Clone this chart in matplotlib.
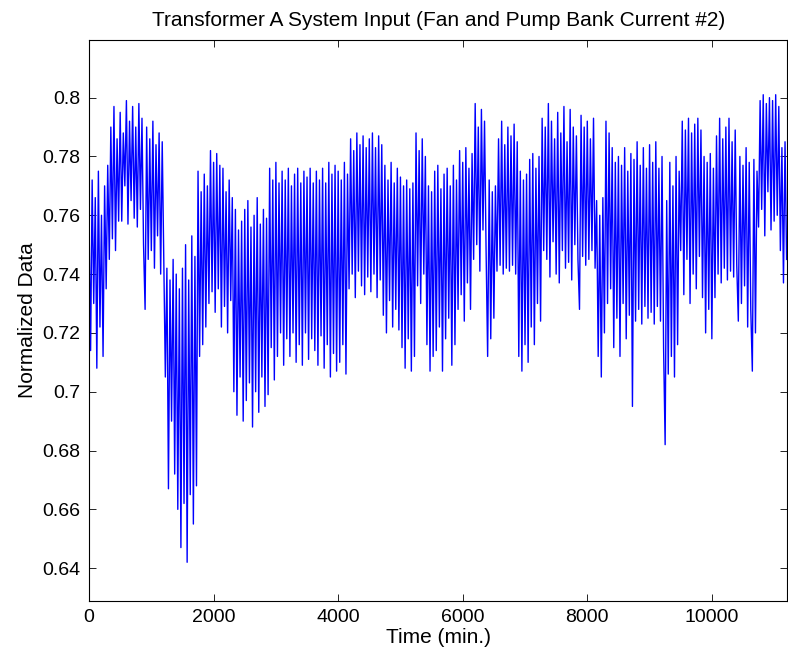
from matplotlib import pyplot as plt
import numpy as np

# trace values, one every 25 min
current = [
    0.758, 0.714, 0.772, 0.730, 0.766, 0.708, 0.775, 0.722, 0.760, 0.712,
    0.770, 0.735, 0.777, 0.745, 0.790, 0.752, 0.797, 0.748, 0.786, 0.758,
    0.795, 0.758, 0.788, 0.770, 0.799, 0.757, 0.792, 0.765, 0.797, 0.759,
    0.790, 0.756, 0.798, 0.762, 0.793, 0.750, 0.728, 0.790, 0.745, 0.786,
    0.748, 0.792, 0.742, 0.784, 0.753, 0.788, 0.740, 0.785, 0.745, 0.705,
    0.742, 0.667, 0.738, 0.690, 0.745, 0.672, 0.740, 0.660, 0.735, 0.647,
    0.742, 0.662, 0.750, 0.642, 0.738, 0.665, 0.753, 0.655, 0.746, 0.668,
    0.775, 0.712, 0.768, 0.716, 0.774, 0.722, 0.770, 0.730, 0.782, 0.734,
    0.778, 0.727, 0.781, 0.735, 0.777, 0.722, 0.776, 0.729, 0.768, 0.720,
    0.772, 0.731, 0.766, 0.700, 0.762, 0.692, 0.755, 0.705, 0.758, 0.690,
    0.762, 0.697, 0.765, 0.703, 0.756, 0.688, 0.760, 0.700, 0.766, 0.693,
    0.757, 0.705, 0.762, 0.695, 0.759, 0.699, 0.776, 0.715, 0.772, 0.704,
    0.778, 0.712, 0.771, 0.720, 0.775, 0.709, 0.772, 0.718, 0.776, 0.712,
    0.770, 0.720, 0.774, 0.710, 0.776, 0.716, 0.771, 0.709, 0.775, 0.720,
    0.773, 0.711, 0.776, 0.718, 0.771, 0.714, 0.775, 0.709, 0.772, 0.719,
    0.776, 0.708, 0.771, 0.716, 0.778, 0.705, 0.774, 0.713, 0.777, 0.707,
    0.775, 0.710, 0.772, 0.716, 0.778, 0.706, 0.774, 0.735, 0.786, 0.740,
    0.782, 0.732, 0.788, 0.741, 0.784, 0.736, 0.787, 0.733, 0.783, 0.739,
    0.786, 0.734, 0.788, 0.740, 0.783, 0.732, 0.787, 0.738, 0.784, 0.726,
    0.777, 0.720, 0.772, 0.731, 0.778, 0.722, 0.771, 0.728, 0.776, 0.721,
    0.773, 0.715, 0.770, 0.708, 0.772, 0.718, 0.769, 0.707, 0.771, 0.712,
    0.788, 0.736, 0.782, 0.730, 0.786, 0.740, 0.780, 0.716, 0.770, 0.707,
    0.768, 0.712, 0.775, 0.714, 0.777, 0.722, 0.769, 0.707, 0.774, 0.718,
    0.776, 0.725, 0.770, 0.709, 0.777, 0.716, 0.772, 0.728, 0.782, 0.733,
    0.778, 0.724, 0.783, 0.737, 0.776, 0.728, 0.781, 0.745, 0.798, 0.750,
    0.790, 0.741, 0.796, 0.755, 0.792, 0.748, 0.712, 0.772, 0.718, 0.768,
    0.725, 0.770, 0.741, 0.786, 0.743, 0.792, 0.740, 0.784, 0.742, 0.790,
    0.741, 0.787, 0.743, 0.791, 0.740, 0.785, 0.712, 0.775, 0.707, 0.772,
    0.716, 0.774, 0.710, 0.779, 0.722, 0.781, 0.716, 0.776, 0.730, 0.780,
    0.724, 0.793, 0.748, 0.790, 0.745, 0.798, 0.739, 0.792, 0.751, 0.786,
    0.740, 0.795, 0.737, 0.788, 0.748, 0.797, 0.742, 0.785, 0.744, 0.796,
    0.738, 0.790, 0.750, 0.787, 0.745, 0.728, 0.794, 0.746, 0.790, 0.743,
    0.792, 0.745, 0.786, 0.748, 0.793, 0.742, 0.765, 0.712, 0.760, 0.705,
    0.766, 0.720, 0.792, 0.730, 0.788, 0.735, 0.783, 0.715, 0.778, 0.725,
    0.780, 0.712, 0.777, 0.730, 0.783, 0.718, 0.775, 0.726, 0.781, 0.695,
    0.779, 0.724, 0.785, 0.728, 0.777, 0.723, 0.783, 0.729, 0.776, 0.725,
    0.784, 0.727, 0.778, 0.723, 0.785, 0.729, 0.776, 0.724, 0.780, 0.715,
    0.682, 0.765, 0.706, 0.778, 0.712, 0.770, 0.705, 0.780, 0.716, 0.775,
    0.748, 0.792, 0.733, 0.789, 0.745, 0.793, 0.730, 0.788, 0.740, 0.791,
    0.735, 0.793, 0.746, 0.789, 0.732, 0.780, 0.720, 0.778, 0.728, 0.781,
    0.718, 0.776, 0.732, 0.787, 0.740, 0.793, 0.737, 0.786, 0.742, 0.790,
    0.738, 0.793, 0.741, 0.785, 0.739, 0.789, 0.743, 0.724, 0.780, 0.730,
    0.777, 0.736, 0.783, 0.722, 0.778, 0.728, 0.707, 0.779, 0.720, 0.775,
    0.756, 0.799, 0.762, 0.801, 0.753, 0.798, 0.768, 0.800, 0.755, 0.799,
    0.758, 0.801, 0.760, 0.797, 0.748, 0.783, 0.737, 0.785, 0.745,
]
time_min = np.arange(len(current)) * 25
x_ticks = [0, 2000, 4000, 6000, 8000, 10000]
y_ticks = [0.64, 0.66, 0.68, 0.7, 0.72, 0.74, 0.76, 0.78, 0.8]
y_tick_labels = ['0.64', '0.66', '0.68', '0.7', '0.72', '0.74', '0.76', '0.78', '0.8']

plt.rcParams['font.family'] = ['Liberation Sans', 'DejaVu Sans']

fig = plt.figure(figsize=(7.88, 6.62), dpi=100)
ax = fig.add_axes([0.113, 0.092, 0.886, 0.848])
ax.plot(time_min, current, color='#0000ff', linewidth=1.0)

ax.set_xlim(0, 11210)
ax.set_ylim(0.6288, 0.8197)
ax.set_xticks(x_ticks)
ax.set_xticklabels([str(t) for t in x_ticks])
ax.set_yticks(y_ticks)
ax.set_yticklabels(y_tick_labels)
ax.tick_params(direction='in', length=5, width=0.6, top=True, right=True,
               labelsize=14, pad=6)
for spine in ax.spines.values():
    spine.set_linewidth(0.8)

ax.set_title('Transformer A System Input (Fan and Pump Bank Current #2)',
             fontsize=15, pad=10)
ax.set_xlabel('Time (min.)', fontsize=15, labelpad=1)
ax.set_ylabel('Normalized Data', fontsize=15, labelpad=4)

fig.savefig('out.png', dpi=100)
